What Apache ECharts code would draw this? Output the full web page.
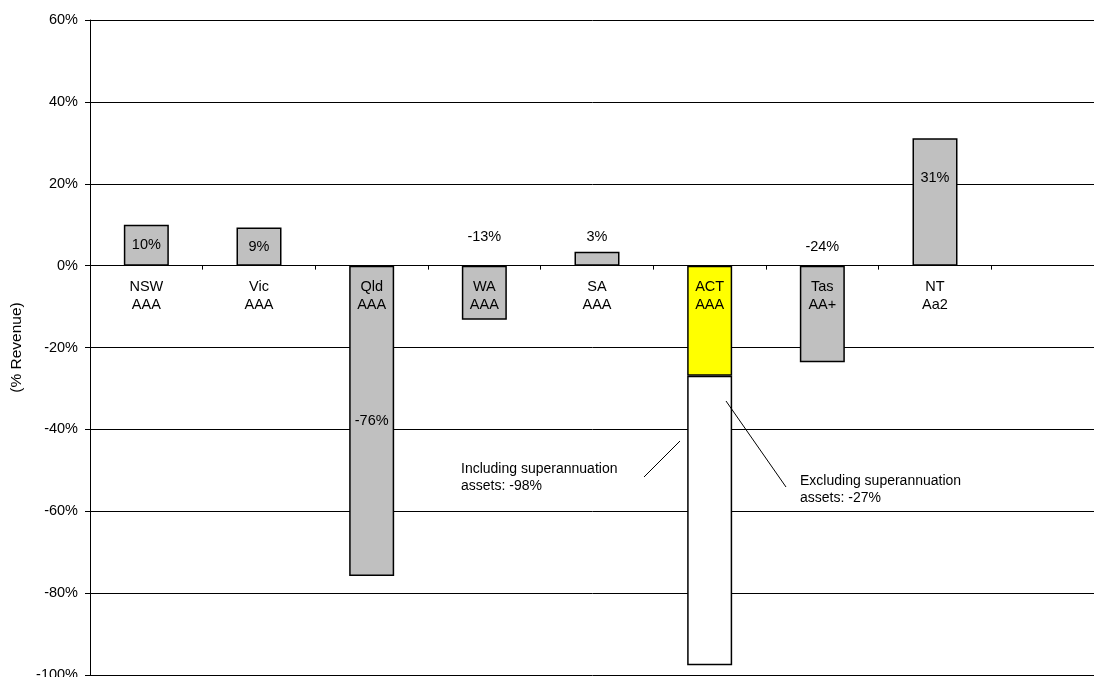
<!DOCTYPE html>
<html>
<head>
<meta charset="utf-8">
<script src="https://cdn.jsdelivr.net/npm/echarts@6/dist/echarts.min.js"></script>
<style>
html,body{margin:0;padding:0;background:#fff;}
#chart{width:1094px;height:677px;}
</style>
</head>
<body>
<div id="chart"></div>
<script>
// ---- data ----
const categories = ['NSW', 'Vic', 'Qld', 'WA', 'SA', 'ACT', 'Tas', 'NT', ''];
const ratings    = ['AAA', 'AAA', 'AAA', 'AAA', 'AAA', 'AAA', 'AA+', 'Aa2', ''];
const netDebt    = [10.0, 9.3, -75.8, -13.2, 3.4, null, -23.6, 31.1, null];       // % revenue
const actExclSuper     = [null, null, null, null, null, -26.9, null, null, null]; // ACT excl. super assets
const actSuperPortion  = [null, null, null, null, null, -70.7, null, null, null]; // extra to reach -97.6 incl. super
const categoryBase     = [0, 0, 0, 0, 0, 0, 0, 0, null];                          // carrier for category captions at 0%
const yTicks = { min: -100, max: 60, interval: 20 };
const annotations = [
  'Including superannuation\nassets: -98%',
  'Excluding superannuation\nassets: -27%'
];

// label placement per state (style, kept apart from values)
const labelPlacement = {
  NSW: { position: 'inside' },
  Vic: { position: 'inside' },
  Qld: { position: 'inside' },
  WA:  { position: 'top', distance: 21 },
  SA:  { position: 'top', distance: 7 },
  Tas: { position: 'top', distance: 11 },
  NT:  { position: 'insideTop', distance: 32 }
};

const FONT = '"Liberation Sans", Arial, sans-serif';
const FS = 14.5;

const greyData = netDebt.map((v, i) => {
  if (v === null) return null;
  const p = labelPlacement[categories[i]] || { position: 'inside' };
  return { value: v, label: Object.assign({ show: true }, p) };
});

const chart = echarts.init(document.getElementById('chart'), null, { renderer: 'canvas' });
chart.setOption({
  animation: false,
  backgroundColor: '#ffffff',
  grid: { left: 90, right: -10, top: 20, bottom: 2, containLabel: false, outerBoundsMode: 'none' },
  xAxis: {
    type: 'category',
    data: categories,
    z: 5,
    axisLine: { show: true, onZero: true, lineStyle: { color: '#000', width: 1 } },
    axisTick: { show: true, length: 4, lineStyle: { color: '#000' } },
    axisLabel: { show: false },
    splitLine: { show: false }
  },
  yAxis: {
    type: 'value',
    min: yTicks.min,
    max: yTicks.max,
    interval: yTicks.interval,
    name: '(% Revenue)',
    nameLocation: 'middle',
    nameRotate: 90,
    nameGap: 65,
    nameTextStyle: { fontFamily: FONT, fontSize: 15.5, color: '#000' },
    axisLine: { show: true, lineStyle: { color: '#000', width: 1 } },
    axisTick: { show: true, length: 5, lineStyle: { color: '#000' } },
    axisLabel: {
      fontFamily: FONT, fontSize: FS, color: '#000', margin: 12,
      formatter: '{value}%'
    },
    splitLine: { show: true, lineStyle: { color: '#000', width: 1 } }
  },
  series: [
    {
      name: 'Category captions',
      type: 'bar',
      stack: 'a',
      barWidth: 45,
      z: 6,
      data: categoryBase,
      itemStyle: { color: 'rgba(0,0,0,0)', borderWidth: 0 },
      label: {
        show: true,
        position: 'bottom',
        distance: 12,
        fontFamily: FONT, fontSize: FS, lineHeight: 18, color: '#000',
        formatter: p => categories[p.dataIndex] + '\n' + ratings[p.dataIndex]
      },
      silent: true
    },
    {
      name: 'Net debt',
      type: 'bar',
      stack: 'a',
      barWidth: 45,
      data: greyData,
      itemStyle: { color: '#C0C0C0', borderColor: '#000', borderWidth: 1.5 },
      label: {
        show: true,
        fontFamily: FONT, fontSize: FS, color: '#000',
        formatter: p => Math.round(p.value) + '%'
      }
    },
    {
      name: 'ACT excluding super',
      type: 'bar',
      stack: 'a',
      barWidth: 45,
      data: actExclSuper,
      itemStyle: { color: '#FFFF00', borderColor: '#000', borderWidth: 1.5 }
    },
    {
      name: 'ACT including super',
      type: 'bar',
      stack: 'a',
      barWidth: 45,
      data: actSuperPortion,
      itemStyle: { color: '#FFFFFF', borderColor: '#000', borderWidth: 1.5 }
    }
  ],
  graphic: [
    {
      type: 'text', left: 461, top: 461, z: 10,
      style: { text: annotations[0], fontFamily: FONT, fontSize: 14, lineHeight: 17, fill: '#000' }
    },
    {
      type: 'text', left: 800, top: 473, z: 10,
      style: { text: annotations[1], fontFamily: FONT, fontSize: 14, lineHeight: 17, fill: '#000' }
    },
    {
      type: 'line', z: 10,
      shape: { x1: 644, y1: 477, x2: 680, y2: 441 },
      style: { stroke: '#000', lineWidth: 1 }
    },
    {
      type: 'line', z: 10,
      shape: { x1: 726, y1: 401, x2: 786, y2: 487 },
      style: { stroke: '#000', lineWidth: 1 }
    }
  ]
});
</script>
</body>
</html>
